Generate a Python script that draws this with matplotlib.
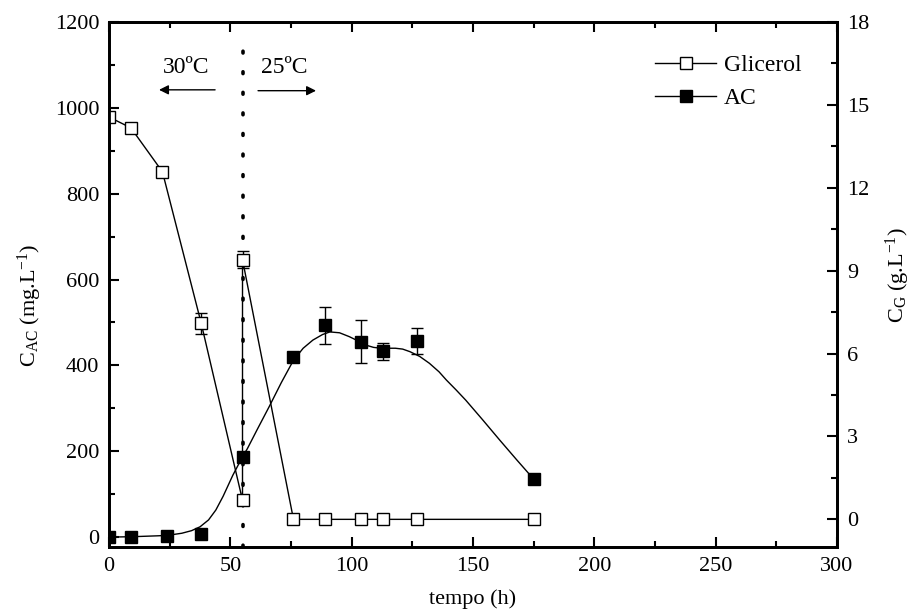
import numpy as np
import matplotlib
matplotlib.use('Agg')
import matplotlib.pyplot as plt
from matplotlib.lines import Line2D

plt.rcParams['font.family'] = 'serif'
plt.rcParams['font.serif'] = ['Liberation Serif', 'DejaVu Serif']
plt.rcParams['mathtext.fontset'] = 'custom'
plt.rcParams['mathtext.rm'] = 'Liberation Serif'
plt.rcParams['mathtext.it'] = 'Liberation Serif:italic'

# glycerol (g/L), right axis
t_gli = [0, 9, 22, 38, 55, 55, 76, 89, 104, 113, 127, 175]
gli = [14.56, 14.17, 12.58, 7.09, 0.69, 9.4, 0, 0, 0, 0, 0, 0]
gli_err = [0, 0, 0, 0.38, 0, 0.3, 0, 0, 0, 0, 0, 0]

# AC (mg/L), left axis
t_ac = [0, 9, 24, 38, 55, 76, 89, 104, 113, 127, 175]
ac = [0, 0, 3, 8, 186, 420, 494, 455, 433, 457, 135]
ac_err = [0, 0, 0, 0, 12, 12, 43, 50, 20, 30, 0]

# fitted curve through AC
fit_t = [0, 10, 20, 24, 30, 34, 37.5, 41, 44, 47, 51, 55, 57, 61, 66, 71, 76, 80, 84, 88,
         91, 95, 99, 103, 106, 109, 112, 115, 118, 121, 124, 128, 132, 136, 139, 143,
         147, 154, 161, 168, 175]
fit_ac = [0, 1, 3, 4, 9, 15, 24, 40, 63, 95, 144, 187, 206, 250, 304, 360, 412, 440, 459,
          472, 478, 476, 467, 456, 447, 442, 440, 440, 440, 438, 432, 421, 405, 385,
          366, 343, 319, 273, 226, 180, 135]

t_change = 55

fig = plt.figure(figsize=(9.14, 6.13), dpi=100)
ax = fig.add_axes([0.1193, 0.1077, 0.7965, 0.8564])
ax2 = ax.twinx()

ax.plot(fit_t, fit_ac, color='k', lw=1.0, zorder=2)
ax.errorbar(t_ac, ac, yerr=ac_err, fmt='s', color='k', mfc='k', mec='k', ms=9,
            ecolor='k', elinewidth=1, capsize=4, capthick=1, zorder=3)

ax.plot([t_change, t_change], [-23, 1160], color='k', lw=2.6,
        linestyle=(0, (0.5, 5.2)), dash_capstyle='round', zorder=1)

ax2.errorbar(t_gli, gli, yerr=gli_err, fmt='-s', color='k', lw=1.0, mfc='white', mec='k',
             ms=9, mew=1.0, ecolor='k', elinewidth=1, capsize=4, capthick=1)

ax.annotate('30ºC', xy=(31.7, 1093), ha='center', va='center', fontsize=17)
ax.annotate('', xy=(20.6, 1042), xytext=(43.7, 1042),
            arrowprops=dict(arrowstyle='-|>', color='k', lw=1.0, mutation_scale=14,
                            shrinkA=0, shrinkB=0))
ax.annotate('25ºC', xy=(72, 1093), ha='center', va='center', fontsize=17)
ax.annotate('', xy=(85.3, 1040), xytext=(61.4, 1040),
            arrowprops=dict(arrowstyle='-|>', color='k', lw=1.0, mutation_scale=14,
                            shrinkA=0, shrinkB=0))

ax.set_xlim(0, 300)
ax.set_ylim(-23, 1200)
ax2.set_ylim(-1, 18)

ax.set_xticks(np.arange(0, 301, 50))
ax.set_xticks(np.arange(25, 300, 50), minor=True)
ax.set_yticks(np.arange(0, 1201, 200))
ax.set_yticks(np.arange(100, 1200, 200), minor=True)
ax2.set_yticks(np.arange(0, 19, 3))
ax2.set_yticks(np.arange(1.5, 18, 3), minor=True)

for a in (ax, ax2):
    a.tick_params(which='major', direction='in', length=7, width=1.5, labelsize=16, pad=7)
    a.tick_params(which='minor', direction='in', length=4, width=1.5)
    for s in a.spines.values():
        s.set_linewidth(2)
ax.tick_params(which='both', top=True, right=False)
ax2.tick_params(which='both', right=True, left=False)

ax.set_xlabel('tempo (h)', fontsize=16)
ax.xaxis.set_label_coords(0.5, -0.08)
ax.set_ylabel(r'C$_{\mathrm{AC}}$ (mg.L$^{\mathrm{-1}}$)', fontsize=16)
ax.yaxis.set_label_coords(-0.09, 0.46)
ax2.set_ylabel(r'C$_{\mathrm{G}}$ (g.L$^{\mathrm{-1}}$)', fontsize=16)
ax2.yaxis.set_label_coords(1.064, 0.518)

handles = [Line2D([], [], color='k', lw=1, marker='s', mfc='white', mec='k', ms=9),
           Line2D([], [], color='k', lw=1, marker='s', mfc='k', mec='k', ms=9)]
ax2.legend(handles, ['Glicerol', 'AC'], loc='upper left', bbox_to_anchor=(0.75, 0.938),
           frameon=False, fontsize=17, handlelength=2.6, handletextpad=0.3,
           labelspacing=0.5, borderpad=0, borderaxespad=0, numpoints=1)

fig.savefig('out.png', dpi=100)
